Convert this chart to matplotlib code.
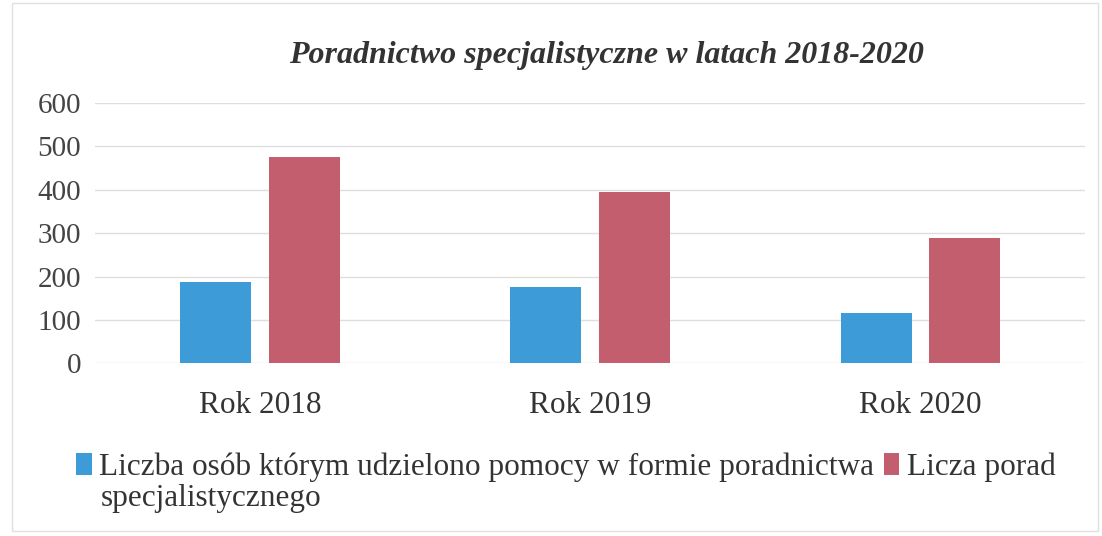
import matplotlib
matplotlib.use("Agg")
import matplotlib.pyplot as plt
import numpy as np
from matplotlib.patches import Rectangle, Patch

categories = ["Rok 2018", "Rok 2019", "Rok 2020"]
osoby = [187, 175, 117]
porady = [476, 395, 290]
yticks = [0, 100, 200, 300, 400, 500, 600]
title = "Poradnictwo specjalistyczne w latach 2018-2020"
label_osoby = "Liczba osób którym udzielono pomocy w formie poradnictwa"
label_osoby_cont = "specjalistycznego"
label_porady = "Licza porad"

blue = "#3d9bd8"
red = "#c25e6d"
serif = ["Liberation Serif", "DejaVu Serif"]

fig = plt.figure(figsize=(11.02, 5.36), dpi=100)
ax = fig.add_axes([0.086, 0.322, 0.899, 0.486])

x = np.arange(len(categories))
w = 0.215
off = 0.134
ax.bar(x - off, osoby, width=w, color=blue, zorder=3)
ax.bar(x + off, porady, width=w, color=red, zorder=3)

ax.set_xlim(-0.5, 2.5)
ax.set_ylim(0, 600)
ax.set_yticks(yticks)
ax.set_xticks(x)
ax.set_xticklabels(categories, fontsize=22.5, family=serif, color="#333333")
ax.set_yticklabels([str(v) for v in yticks], fontsize=21, family=serif, color="#444444")
ax.tick_params(axis="both", length=0)
ax.tick_params(axis="y", pad=10)
ax.tick_params(axis="x", pad=20)
for s in ax.spines.values():
    s.set_visible(False)
ax.grid(axis="y", color="#dedede", linewidth=1.0, zorder=0)

fig.text(0.55, 0.897, title, ha="center", va="center", fontsize=23,
         family=serif, style="italic", weight="bold", color="#333333")

handles = [Patch(facecolor=blue), Patch(facecolor=red)]
leg = fig.legend(handles, [label_osoby, label_porady], loc="center left",
                 bbox_to_anchor=(0.069, 0.128), ncol=2, frameon=False,
                 prop={"family": serif, "size": 22.5}, handlelength=0.5,
                 handleheight=0.7, handletextpad=0.25, columnspacing=0.3,
                 borderaxespad=0, borderpad=0)
for t in leg.get_texts():
    t.set_color("#333333")
fig.text(0.091, 0.07, label_osoby_cont, ha="left", va="center", fontsize=22.5,
         family=serif, color="#333333")

fig.patches.append(Rectangle((0.011, 0.01), 0.985, 0.985, transform=fig.transFigure,
                             fill=False, edgecolor="#e0e0e0", linewidth=1))

fig.savefig("out.png", dpi=100)
